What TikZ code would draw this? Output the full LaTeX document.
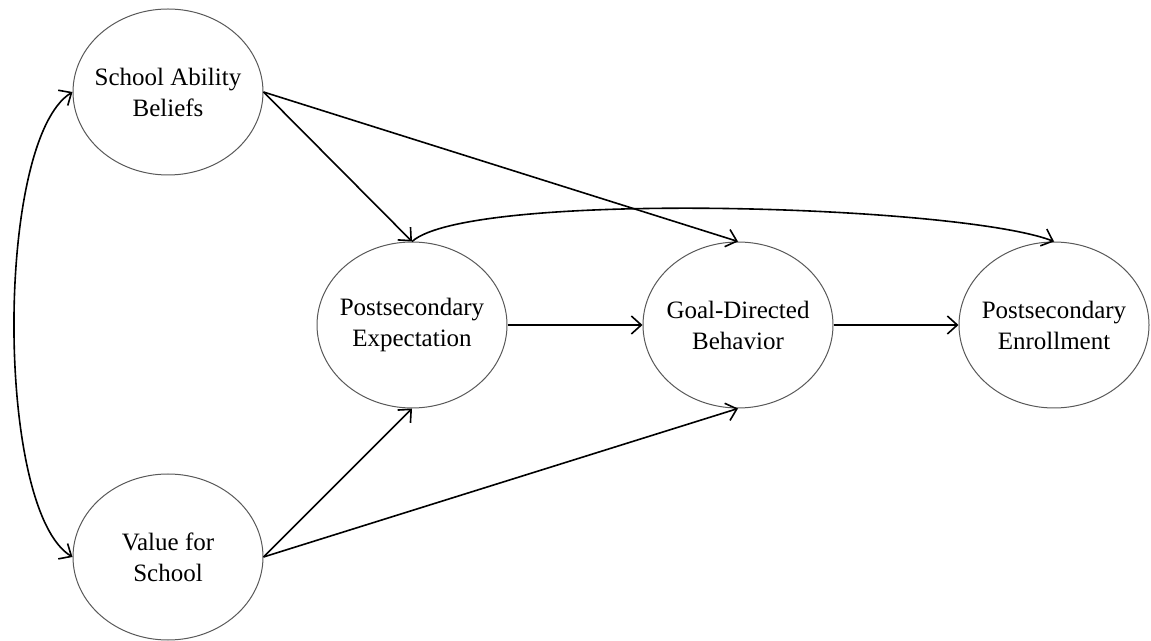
\documentclass[tikz,border=0pt]{standalone}
\usepackage{fontspec}
\setmainfont{Liberation Serif}
\usetikzlibrary{shapes.geometric,arrows.meta}
\begin{document}
\begin{tikzpicture}[x=0.5pt,y=-0.5pt,
  latent/.style={ellipse,draw=black!65,line width=0.5pt,minimum width=95pt,
    minimum height=83pt,inner xsep=-6pt,inner ysep=0pt,align=center,
    font=\fontsize{12.5}{15.5}\selectfont},
  tip/.tip={Straight Barb[length=5pt,width=9pt]},
  path/.style={line width=0.8pt,-tip},
  twoway/.style={line width=0.8pt,tip-tip},
  ]
\useasboundingbox (0,0) rectangle (1151,641);

% latent constructs
\node[latent] (sab) at (168,92)   {School Ability\\Beliefs};
\node[latent] (vfs) at (168,557)  {Value for\\School};
\node[latent] (pe)  at (412,325)  {Postsecondary\\Expectation};
\node[latent] (gdb) at (738,325)  {Goal-Directed\\Behavior};
\node[latent] (pse) at (1054,325) {Postsecondary\\Enrollment};

% correlation between the two beliefs
\draw[twoway] (sab.west) .. controls (-5,140) and (-5,510) .. (vfs.west);

% direct paths
\draw[path] (sab.east) -- (pe.north);
\draw[path] (sab.east) -- (gdb.north);
\draw[path] (vfs.east) -- (pe.south);
\draw[path] (vfs.east) -- (gdb.south);
\draw[path] (pe.east) -- (gdb.west);
\draw[path] (gdb.east) -- (pse.west);
\draw[path] (pe.north) .. controls (470,190) and (960,205) .. (pse.north);
\end{tikzpicture}
\end{document}
